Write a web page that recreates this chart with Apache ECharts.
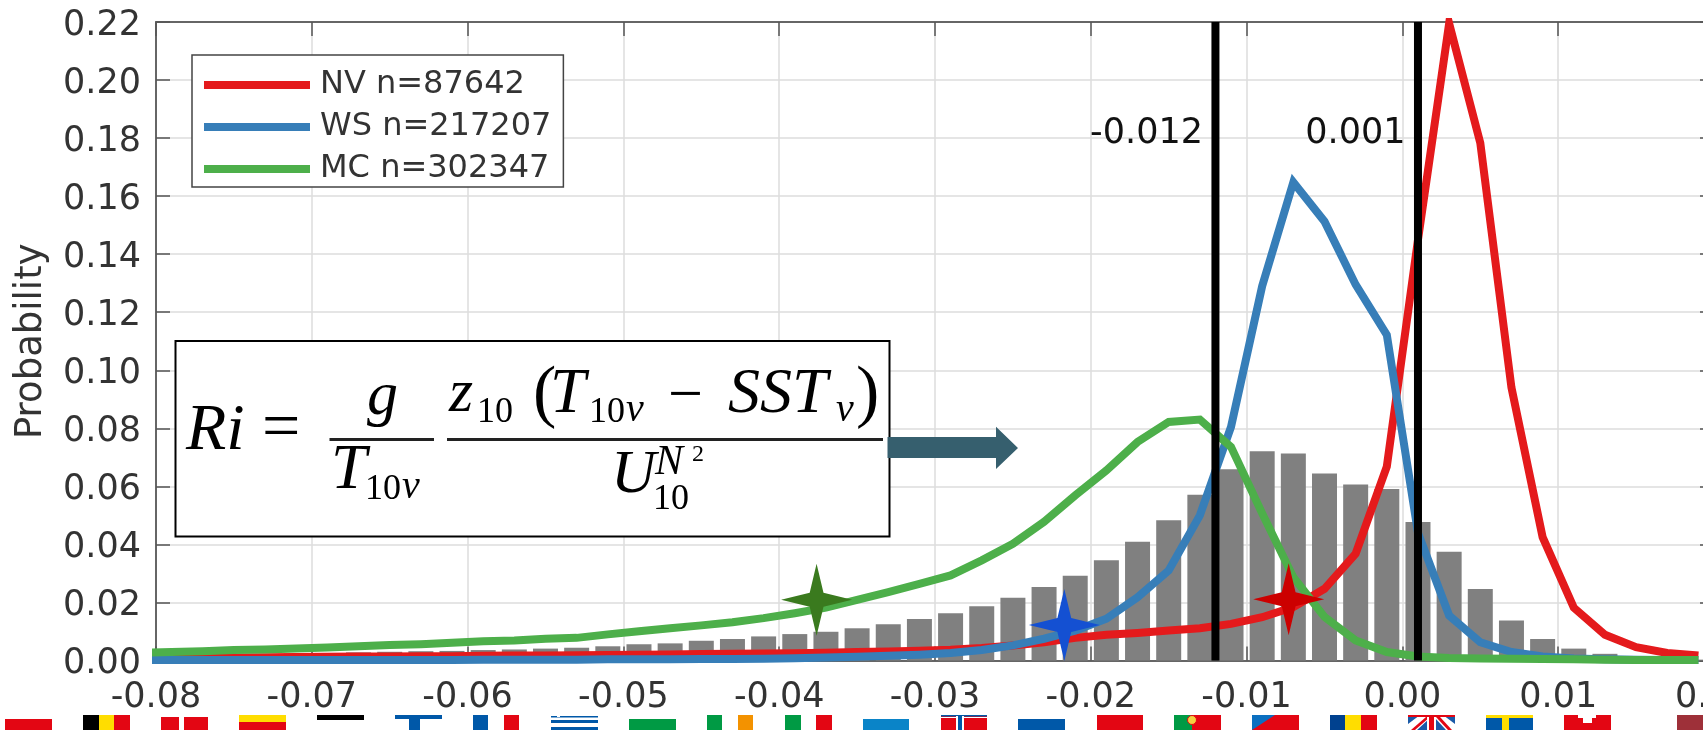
<!DOCTYPE html>
<html><head><meta charset="utf-8">
<style>html,body{margin:0;padding:0;background:#fff}#c{width:1703px;height:730px}</style>
<script src="https://cdn.jsdelivr.net/npm/echarts@6/dist/echarts.min.js"></script>
</head><body><div id="c"></div>
<script>
const binCenters=[-0.079,-0.077,-0.075,-0.073,-0.071,-0.069,-0.067,-0.065,-0.063,-0.061,-0.059,-0.057,-0.055,-0.053,-0.051,-0.049,-0.047,-0.045,-0.043,-0.041,-0.039,-0.037,-0.035,-0.033,-0.031,-0.029,-0.027,-0.025,-0.023,-0.021,-0.019,-0.017,-0.015,-0.013,-0.011,-0.009,-0.007,-0.005,-0.003,-0.001,0.001,0.003,0.005,0.007,0.009,0.011,0.013,0.015,0.017,0.019];
const barValues=[.0017,.0019,.0020,.0022,.0024,.0026,.0028,.0030,.0032,.0033,.0036,.0038,.0041,.0044,.0049,.0056,.0059,.0068,.0074,.0083,.0091,.0099,.0111,.0125,.0143,.0163,.0187,.0216,.0253,.0292,.0345,.0409,.0483,.0571,.0659,.0721,.0713,.0644,.0606,.0591,.0477,.0375,.0246,.0138,.0074,.0041,.0023,.0010,.0005,.0003];
const lineX=[-0.081].concat(binCenters);
const nvValues=[.0006,.0008,.0009,.0010,.0011,.0012,.0013,.0014,.0014,.0015,.0015,.0016,.0017,.0017,.0018,.0019,.0020,.0021,.0022,.0023,.0024,.0025,.0027,.0029,.0031,.0034,.0037,.0043,.0052,.0063,.0078,.0089,.0095,.0103,.0111,.0126,.0149,.0184,.0247,.0368,.0668,.145,.2195,.1783,.094,.0425,.0182,.0089,.0046,.0026,.0017];
const wsValues=[.0001,.0002,.0002,.0002,.0002,.0002,.0002,.0002,.0002,.0002,.0002,.0003,.0003,.0003,.0003,.0004,.0004,.0004,.0005,.0005,.0006,.0008,.0010,.0013,.0016,.0020,.0026,.0036,.0052,.0075,.0103,.0144,.0218,.031,.05,.0805,.129,.1648,.1513,.1295,.1122,.044,.0155,.0063,.0029,.0014,.0007,.0004,.0003,.0002,.0002];
const mcValues=[.0027,.0029,.0032,.0036,.0038,.0041,.0045,.0049,.0053,.0056,.0061,.0066,.0069,.0075,.0078,.0090,.0101,.0111,.0121,.0132,.0146,.0163,.0182,.0209,.0236,.0264,.0293,.0345,.0402,.0478,.0569,.0655,.0753,.0822,.083,.0736,.0507,.0287,.015,.0069,.0029,.0014,.0009,.0007,.0006,.0005,.0004,.0003,.0002,.0002,.0002];
const thresholds=[-0.012,0.001];
const thresholdLabels=['-0.012','0.001'];
const thresholdLabelY=0.1815;
const stars=[[-0.0376,0.0209],[-0.0217,0.0122],[-0.0073,0.0211]];
const starColors=['#3a7a1e','#1450d2','#cc0000'];
const seriesNames=['NV n=87642','WS n=217207','MC n=302347'];
const seriesColors=['#e41a1c','#377eb8','#4daf4a'];
const tickFont='"DejaVu Sans"';
const starPath='path://M0,-36 L7,-7 L36,0 L7,7 L0,36 L-7,7 L-36,0 L-7,-7 Z';

function pair(xs,ys){return xs.map((x,i)=>[x,ys[i]]);}
const lineSeries=[nvValues,wsValues,mcValues].map((v,i)=>({
  type:'line',name:seriesNames[i],data:pair(lineX,v),symbol:'none',clip:true,z:3+i,
  lineStyle:{color:seriesColors[i],width:8,join:'miter'},itemStyle:{color:seriesColors[i]},animation:false
}));
const vLines=thresholds.map(t=>({
  type:'line',data:[[t,0],[t,0.22]],symbol:'none',z:8,silent:true,
  lineStyle:{color:'#000',width:8,cap:'butt'},animation:false
}));
const gridLine={show:true,lineStyle:{color:'#dcdcdc',width:1.5}};
const tick={show:true,inside:true,length:14,lineStyle:{color:'#555',width:1.5}};
const axisLine={show:true,onZero:false,lineStyle:{color:'#666',width:2}};

/* formula and decoration */
const G=[];
function rect(x,y,w,h,fill,extra){G.push(Object.assign({type:'rect',shape:{x,y,width:w,height:h},style:{fill},z:50},extra||{}));}
function poly(points,fill){G.push({type:'polygon',shape:{points},style:{fill},z:50});}
function txt(s,x,base,size,italic){
  G.push({type:'text',z:60,style:{text:s,x,y:base-0.33*size,fill:'#000',textAlign:'left',textVerticalAlign:'middle',
    font:(italic?'italic ':'')+size+'px "Liberation Serif"'}});
}
rect(175.5,341,714,195.5,'#fff',{style:{fill:'#fff',stroke:'#000',lineWidth:2}});
rect(329.5,438,104.5,3,'#222');
rect(447,438,436,3,'#222');
txt('Ri',186,453,66,true);
txt('=',262,453,68,false);
txt('g',367,418,62,true);
txt('T',331,492.7,64,true);
txt('10',365,501,36,false);txt('v',402,501,40,true);
txt('z',449,415,62,true);
txt('10',477,424,36,false);
txt('(',533,419,70,false);
txt('T',550,416.7,64,true);
txt('10',589,424,36,false);txt('v',626,424,40,true);
txt('\u2212',668,418,62,false);
txt('SST',728,416.7,64,true);
txt('v',836,424,40,true);
txt(')',856,419,70,false);
txt('U',611,496,62,true);
txt('N',655,476.7,42,true);
txt('2',692,463,24,false);
txt('10',653,511.7,36,false);
poly([[887.5,437],[996,437],[996,426.7],[1018,448],[996,469],[996,458],[887.5,458]],'#365f6e');

/* row of cropped flags */
const R='#e30613',B='#0058a8',GRN='#009a44',Y='#ffdd00';
rect(5,719,47,11,R);
rect(83,715,16,15,'#000');rect(99,715,15,15,Y);rect(114,715,16,15,R);
rect(161,717,18,13,R);rect(184,717,24,13,R);
rect(239,715,47,7,Y);rect(239,722,47,8,R);
rect(317,715,47,5,'#000');
rect(395,715,47,4,B);rect(409,719,11,11,B);
rect(473,715,15,15,B);rect(504,715,15,15,R);
rect(551,716,47,1.5,B);rect(551,720,47,3,B);rect(551,727,47,3,B);rect(557,715,3,2,'#fff');
rect(629,719,47,11,GRN);
rect(707,715,15,15,GRN);rect(738,715,15,15,'#f39200');
rect(785,715,16,15,GRN);rect(816,715,16,15,R);
rect(863,719,46,11,'#0a84c8');
rect(941,715,46,15,R);rect(941,715,46,1.5,B);rect(941,717,46,1,'#fff');rect(956,716,8,14,'#fff');rect(958,716,4,14,B);
rect(1018,719,47,11,B);
rect(1097,715,46,15,R);
rect(1174,715,47,15,R);rect(1174,715,18,15,GRN);G.push({type:'circle',z:51,shape:{cx:1192,cy:720,r:4.5},style:{fill:'#f4d03f',stroke:R,lineWidth:1}});
rect(1252,715,47,15,R);poly([[1252,715],[1275,715],[1252,730]],'#0b6fc0');
rect(1330,715,15,15,'#00418f');rect(1345,715,16,15,Y);rect(1361,715,16,15,R);
rect(1408,715,47,15,'#1a5aa8');
poly([[1408,724],[1408,730],[1417,730],[1430,718],[1433,718],[1433,715],[1420,715]],'#fff');
poly([[1455,724],[1455,730],[1446,730],[1435,718],[1433,715],[1443,715]],'#fff');
poly([[1411,730],[1415,730],[1430,717],[1426,717]],R);poly([[1452,730],[1448,730],[1436,717],[1440,717]],R);
rect(1408,715,47,2,R);rect(1427,717,9,13,'#fff');rect(1429,717,5,13,R);
rect(1486,715,47,15,B);rect(1486,715,47,3,Y);rect(1502,715,7,15,Y);
rect(1564,715,47,15,R);rect(1578,715,18,3,'#fff');rect(1583,715,9,8,'#fff');
rect(1677,715,26,15,'#9e3039');

const chart=echarts.init(document.getElementById('c'),null,{renderer:'canvas'});
const xBase={type:'value',min:-0.08,max:0.02,interval:0.01};
const yBase={type:'value',min:0,max:0.22,interval:0.02};
chart.setOption({
  animation:false,backgroundColor:'#fff',
  grid:{left:156,right:-11,top:22,bottom:69.5,containLabel:false,outerBoundsMode:'none'},
  legend:{show:true,left:192,top:55,orient:'vertical',data:seriesNames,icon:'rect',itemWidth:106,itemHeight:8,itemGap:10,
    padding:[14,12,2,12],backgroundColor:'#fff',borderColor:'#444',borderWidth:1.5,z:20,selectedMode:false,
    align:'left',textStyle:{fontFamily:tickFont,fontSize:32,color:'#333',padding:[0,0,0,5]}},
  xAxis:[
   Object.assign({},xBase,{position:'bottom',axisLine,axisTick:tick,splitLine:gridLine,
     axisLabel:{show:true,fontFamily:tickFont,fontSize:35,color:'#333',margin:20,formatter:v=>v.toFixed(2),showMinLabel:true,showMaxLabel:true,hideOverlap:false}}),
   Object.assign({},xBase,{position:'top',axisLine,axisTick:tick,splitLine:{show:false},axisLabel:{show:false}})
  ],
  yAxis:[
   Object.assign({},yBase,{position:'left',axisLine,axisTick:tick,splitLine:gridLine,name:'Probability',nameLocation:'middle',nameGap:106,
     nameTextStyle:{fontFamily:tickFont,fontSize:37,color:'#333'},
     axisLabel:{show:true,margin:15,formatter:v=>'{a|'+v.toFixed(2)+'}',
       rich:{a:{fontFamily:tickFont,fontSize:35,color:'#333',padding:[7,0,0,0]}}}}),
   Object.assign({},yBase,{position:'right',axisLine,axisTick:tick,splitLine:{show:false},axisLabel:{show:false}})
  ],
  series:[
   {type:'bar',data:pair(binCenters,barValues),barWidth:25,itemStyle:{color:'#808080'},z:2,silent:true},
   ...lineSeries,...vLines,
   {type:'scatter',data:thresholds.map((t,i)=>[t,thresholdLabelY,thresholdLabels[i]]),symbolSize:1,itemStyle:{opacity:0},z:9,silent:true,
    label:{show:true,position:'left',distance:12,fontFamily:tickFont,fontSize:35,color:'#111',opacity:1,formatter:p=>p.value[2]}},
   {type:'scatter',data:stars.map((s,i)=>({value:s,itemStyle:{color:starColors[i],opacity:1}})),symbol:starPath,symbolSize:[71,72],z:10,silent:true}
  ],
  graphic:{elements:G,z:30}
});
</script></body></html>
